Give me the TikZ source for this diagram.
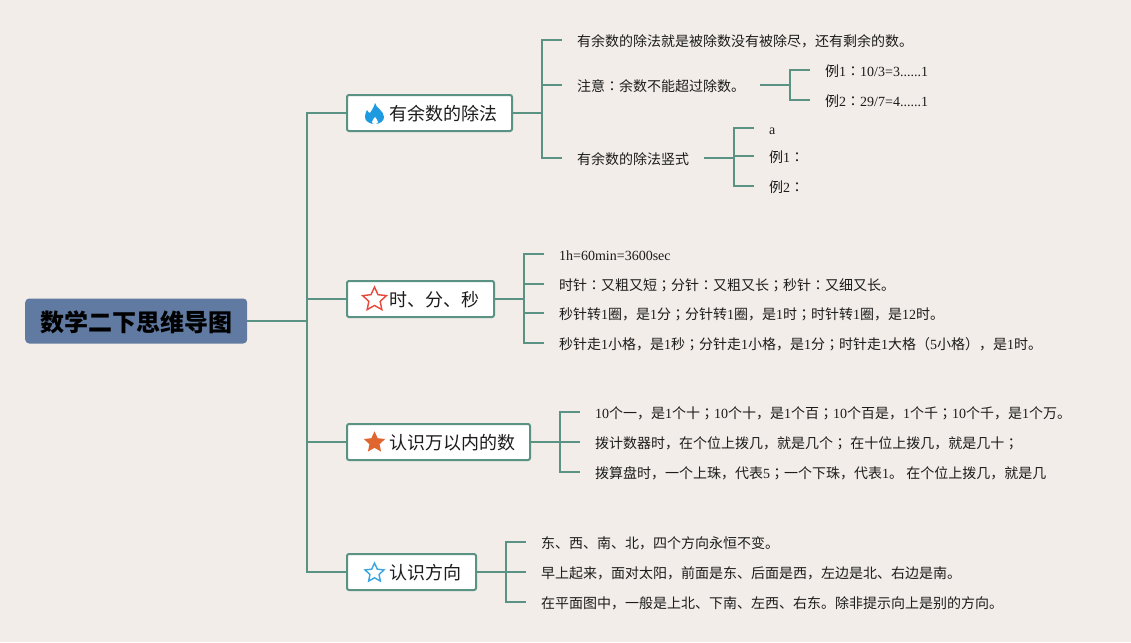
\documentclass[tikz,border=0pt]{standalone}
\usepackage{fontspec}
\usepackage{tikz}
\usetikzlibrary{positioning,shapes.geometric}
\setmainfont{Noto Sans CJK SC}
\newfontfamily\latfont{Liberation Serif}
\newfontfamily\tcfont{Noto Sans CJK TC}
\definecolor{paper}{HTML}{F2EDE8}
\definecolor{branch}{HTML}{5A9284}
\definecolor{rootblue}{HTML}{607AA2}
\definecolor{ink}{HTML}{1C1C1C}
\definecolor{flameblue}{HTML}{1E9BE0}
\definecolor{starred}{HTML}{E8483A}
\definecolor{starorange}{HTML}{E0652F}
\definecolor{starblue}{HTML}{3BA5E0}
\newcommand{\lat}[1]{{\latfont #1}}
\newcommand{\zc}{{\tcfont ：}}
\newcommand{\zs}{{\tcfont ；}}
\newcommand{\leaffont}{\fontsize{14pt}{16pt}\selectfont}
\newcommand{\topicfont}{\fontsize{18pt}{20pt}\selectfont}
\begin{document}
\begin{tikzpicture}[x=1pt,y=-1pt,
 link/.style={branch,line width=2pt},
 leaf/.style={anchor=west,inner xsep=15pt,inner ysep=0pt,text=ink,font=\leaffont,
  text height=13.6pt,text depth=1pt},
 topic/.style={anchor=west,draw=branch,line width=2pt,fill=white,rounded corners=2pt,
  inner xsep=14.5pt,inner ysep=0pt,minimum height=36pt,text=ink,font=\topicfont,
  text height=17pt,text depth=1.4pt,
  execute at begin node=\hspace*{28pt}},
 icon/.style={star,star points=5,star point ratio=2.1,inner sep=0pt,line width=1.4pt}]
 \useasboundingbox[fill=paper] (0,0) rectangle (1131,642);
 \node[anchor=west,fill=rootblue,rounded corners=4pt,inner xsep=15pt,inner ysep=0pt,
  minimum height=45pt,text=black,font=\fontsize{24pt}{26pt}\selectfont\bfseries,
  text height=23pt,text depth=1.8pt] (root) at (25,321) {数学二下思维导图};
 \node[topic] (t1) at (346,113) {有余数的除法};
 \node[topic] (t2) at (346,299) {时、分、秒};
 \node[topic] (t3) at (346,442) {认识万以内的数};
 \node[topic] (t4) at (346,572) {认识方向};
 \coordinate (bus0) at (307,321);
 \draw[link] (root.east) -- (bus0) |- (t1.west);
 \draw[link] (bus0) |- (t2.west);
 \draw[link] (bus0) |- (t3.west);
 \draw[link] (bus0) |- (t4.west);
 \fill[flameblue] (375,103) .. controls (376,108) and (384,111) .. (384,117)
  .. controls (384,121) and (380,124) .. (375,124) .. controls (369,124) and (365,121) .. (365,117)
  .. controls (365,114) and (366,112) .. (367,110) .. controls (368,112) and (369,113) .. (370,113)
  .. controls (372,110) and (374,107) .. (375,103) -- cycle;
 \fill[white] (375,117) .. controls (376,119) and (378,120) .. (378,122)
  .. controls (378,123) and (377,124) .. (375,124) .. controls (373,124) and (372,123) .. (372,122)
  .. controls (372,120) and (374,119) .. (375,117) -- cycle;
 \node[icon,draw=starred,minimum size=25pt] (i2) at (374.5,299.5) {};
 \node[icon,draw=starorange,fill=starorange,minimum size=19pt] (i3) at (374.5,442.5) {};
 \node[icon,draw=starblue,minimum size=20pt] (i4) at (374.5,573) {};
 \node[leaf] (a1) at (562,40) {有余数的除法就是被除数没有被除尽，还有剩余的数。};
 \node[leaf] (a2) at (562,85) {注意\zc{}余数不能超过除数。};
 \node[leaf] (a3) at (562,158) {有余数的除法竖式};
 \coordinate (bus1) at (542,113);
 \draw[link] (t1.east) -- (bus1) |- (a1.west);
 \draw[link] (bus1) |- (a2.west);
 \draw[link] (bus1) |- (a3.west);
 \node[leaf] (b1) at (810,70) {例\lat{1}\zc{}\lat{10/3=3......1}};
 \node[leaf] (b2) at (810,100) {例\lat{2}\zc{}\lat{29/7=4......1}};
 \coordinate (bus1a) at (790,85);
 \draw[link] (a2.east) -- (bus1a) |- (b1.west);
 \draw[link] (bus1a) |- (b2.west);
 \node[leaf] (c1) at (754,128) {\lat{a}};
 \node[leaf] (c2) at (754,156) {例\lat{1}\zc{}};
 \node[leaf] (c3) at (754,186) {例\lat{2}\zc{}};
 \coordinate (bus1b) at (734,158);
 \draw[link] (a3.east) -- (bus1b) |- (c1.west);
 \draw[link] (bus1b) |- (c2.west);
 \draw[link] (bus1b) |- (c3.west);
 \node[leaf] (d1) at (544,254) {\lat{1h=60min=3600sec}};
 \node[leaf] (d2) at (544,284) {时针\zc{}又粗又短\zs{}分针\zc{}又粗又长\zs{}秒针\zc{}又细又长。};
 \node[leaf] (d3) at (544,313) {秒针转\lat{1}圈，是\lat{1}分\zs{}分针转\lat{1}圈，是\lat{1}时\zs{}时针转\lat{1}圈，是\lat{12}时。};
 \node[leaf] (d4) at (544,343) {秒针走\lat{1}小格，是\lat{1}秒\zs{}分针走\lat{1}小格，是\lat{1}分\zs{}时针走\lat{1}大格（\lat{5}小格），是\lat{1}时。};
 \coordinate (bus2) at (524,299);
 \draw[link] (t2.east) -- (bus2) |- (d1.west);
 \draw[link] (bus2) |- (d2.west);
 \draw[link] (bus2) |- (d3.west);
 \draw[link] (bus2) |- (d4.west);
 \node[leaf] (e1) at (580,412) {\lat{10}个一，是\lat{1}个十\zs{}\lat{10}个十，是\lat{1}个百\zs{}\lat{10}个百是，\lat{1}个千\zs{}\lat{10}个千，是\lat{1}个万。};
 \node[leaf] (e2) at (580,442) {拨计数器时，在个位上拨几，就是几个\zs{} 在十位上拨几，就是几十\zs{}};
 \node[leaf] (e3) at (580,472) {拨算盘时，一个上珠，代表\lat{5}\zs{}一个下珠，代表\lat{1}。 在个位上拨几，就是几};
 \coordinate (bus3) at (560,442);
 \draw[link] (t3.east) -- (bus3) |- (e1.west);
 \draw[link] (bus3) |- (e2.west);
 \draw[link] (bus3) |- (e3.west);
 \node[leaf] (f1) at (526,542) {东、西、南、北，四个方向永恒不变。};
 \node[leaf] (f2) at (526,572) {早上起来，面对太阳，前面是东、后面是西，左边是北、右边是南。};
 \node[leaf] (f3) at (526,602) {在平面图中，一般是上北、下南、左西、右东。除非提示向上是别的方向。};
 \coordinate (bus4) at (506,572);
 \draw[link] (t4.east) -- (bus4) |- (f1.west);
 \draw[link] (bus4) |- (f2.west);
 \draw[link] (bus4) |- (f3.west);
\end{tikzpicture}
\end{document}
